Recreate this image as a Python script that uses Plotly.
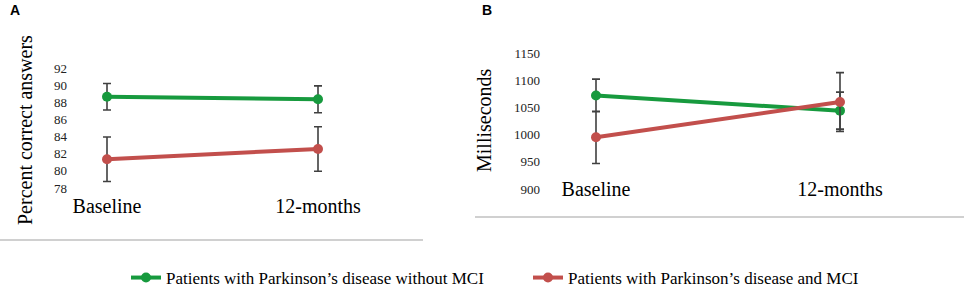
import plotly.graph_objects as go

W, H = 964, 289

categories = ["Baseline", "12-months"]

# Panel A: percent correct answers
a_no_mci = [88.65, 88.35]
a_no_mci_err = [1.55, 1.57]
a_mci = [81.35, 82.55]
a_mci_err = [2.6, 2.6]
a_ticks = [78, 80, 82, 84, 86, 88, 90, 92]

# Panel B: milliseconds
b_no_mci = [1072, 1044]
b_no_mci_err = [30, 34]
b_mci = [995, 1060]
b_mci_err = [48, 54]
b_ticks = [900, 950, 1000, 1050, 1100, 1150]

series_names = ["Patients with Parkinson\u2019s disease without MCI",
                "Patients with Parkinson\u2019s disease and MCI"]
GREEN = "#179a3e"
RED = "#c24f4c"
ERR = "#404040"
SERIF = "Liberation Serif, Times New Roman, serif"

def px_x(p):
    return p / W

def px_y(p):
    return 1 - p / H

fig = go.Figure()

def add_series(y, err, color, name, xa, ya, showlegend):
    fig.add_trace(go.Scatter(
        x=[0, 1], y=y, mode="lines+markers", name=name,
        line=dict(color=color, width=4),
        marker=dict(color=color, size=10),
        error_y=dict(type="data", array=err, color=ERR, thickness=1.6, width=4),
        xaxis=xa, yaxis=ya, showlegend=showlegend, cliponaxis=False,
    ))

add_series(a_no_mci, a_no_mci_err, GREEN, series_names[0], "x", "y", True)
add_series(a_mci, a_mci_err, RED, series_names[1], "x", "y", True)
add_series(b_no_mci, b_no_mci_err, GREEN, series_names[0], "x2", "y2", False)
add_series(b_mci, b_mci_err, RED, series_names[1], "x2", "y2", False)

# Panel A axes: categories at x=107 and 318 px; y 92->68px, 78->188px
ax0, ax1, aspan = 72, 423, 211
fig.update_layout(
    xaxis=dict(domain=[px_x(ax0), px_x(ax1)],
               range=[-(107 - ax0) / aspan, (ax1 - 107) / aspan],
               tickvals=[0, 1], ticktext=categories, showgrid=False,
               zeroline=False, showline=False, ticks="", automargin=False,
               tickfont=dict(family=SERIF, size=20, color="#000"),
               ticklabelstandoff=4, anchor="y"),
    yaxis=dict(domain=[px_y(188), px_y(68)], range=[78, 92],
               tickvals=a_ticks, showgrid=False, zeroline=False,
               showline=False, ticks="", automargin=False,
               tickfont=dict(family=SERIF, size=13, color="#222"),
               ticklabelstandoff=4, anchor="x"),
)

# Panel B axes: categories at x=596 and 840 px; y 1150->53px, 900->189px
bx0, bx1, bspan = 545, 964, 244
fig.update_layout(
    xaxis2=dict(domain=[px_x(bx0), px_x(bx1)],
                range=[-(596 - bx0) / bspan, (bx1 - 596) / bspan],
                tickvals=[0, 1], ticktext=categories, showgrid=False,
                zeroline=False, showline=False, ticks="", automargin=False,
                tickfont=dict(family=SERIF, size=20, color="#000"),
                ticklabelstandoff=-14, anchor="y2"),
    yaxis2=dict(domain=[px_y(189), px_y(53)], range=[900, 1150],
                tickvals=b_ticks, showgrid=False, zeroline=False,
                showline=False, ticks="", automargin=False,
                tickfont=dict(family=SERIF, size=13, color="#222"),
                ticklabelstandoff=4, anchor="x2"),
)

annotations = [
    dict(text="<b>A</b>", x=px_x(8), y=px_y(10), xanchor="left", yanchor="middle",
         font=dict(family="Liberation Sans, Arial", size=14, color="#000")),
    dict(text="<b>B</b>", x=px_x(480), y=px_y(10), xanchor="left", yanchor="middle",
         font=dict(family="Liberation Sans, Arial", size=14, color="#000")),
    dict(text="Percent correct answers", x=px_x(25), y=px_y(130), textangle=-90,
         xanchor="center", yanchor="middle",
         font=dict(family=SERIF, size=20, color="#000")),
    dict(text="Milliseconds", x=px_x(484), y=px_y(120), textangle=-90,
         xanchor="center", yanchor="middle",
         font=dict(family=SERIF, size=20, color="#000")),
]
for a in annotations:
    a.update(xref="paper", yref="paper", showarrow=False)

shapes = [
    dict(type="line", xref="paper", yref="paper", x0=px_x(0), x1=px_x(423),
         y0=px_y(240), y1=px_y(240), line=dict(color="#d0d0d0", width=2)),
    dict(type="line", xref="paper", yref="paper", x0=px_x(475), x1=1,
         y0=px_y(217), y1=px_y(217), line=dict(color="#d0d0d0", width=2)),
]

fig.update_layout(
    width=W, height=H, margin=dict(l=0, r=0, t=0, b=0, autoexpand=False),
    paper_bgcolor="white", plot_bgcolor="white",
    annotations=annotations, shapes=shapes,
    legend=dict(orientation="h", x=px_x(126), y=px_y(278), xanchor="left",
                yanchor="middle", font=dict(family=SERIF, size=17, color="#000"),
                itemwidth=30, entrywidth=357, entrywidthmode="pixels",
                bgcolor="rgba(0,0,0,0)"),
)

fig.write_html("out.html",
               config={"displayModeBar": False},
               post_script="document.body.style.margin='0px';"
                           "document.body.style.overflow='hidden';")
